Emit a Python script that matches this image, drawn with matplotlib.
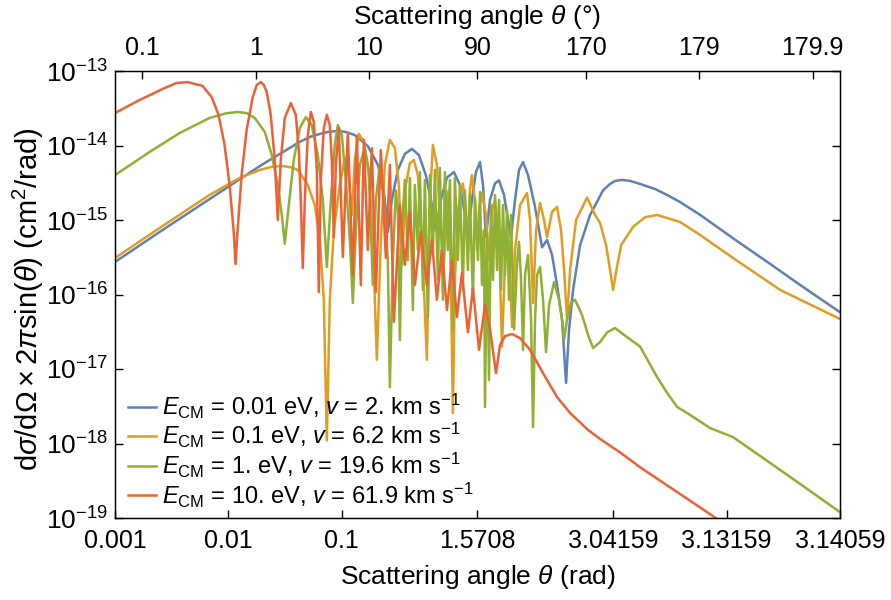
import numpy as np
import matplotlib
matplotlib.use("Agg")
import matplotlib.pyplot as plt
from matplotlib.ticker import NullLocator

# ---- data (theta in rad, cross section in cm^2/rad) ----
theta_e001 = [0.001, 0.00247, 0.00682, 0.0189, 0.0426, 0.0522, 0.0639, 0.0752, 0.0922, 0.1084,
              0.1302, 0.1696, 0.2078,
              0.2347, 0.2546, 0.2761, 0.3119, 0.3595, 0.4145, 0.4778, 0.5508, 0.6222, 0.6749,
              0.747, 0.8439, 0.9728, 1.0989, 1.2164, 1.2928, 1.4024, 1.521, 1.6486, 1.7369,
              1.8199, 1.9231, 2.0408, 2.1267, 2.2247, 2.2963, 2.3462, 2.4083, 2.4656, 2.5183,
              2.5785, 2.6531, 2.7179, 2.7588, 2.7958, 2.8292, 2.8594, 2.8814, 2.8968, 2.9159,
              2.9458, 2.9818, 3.0189, 3.0351, 3.0454, 3.0582, 3.0707, 3.0837, 3.09893, 3.1081,
              3.1159, 3.1245, 3.1328, 3.13747, 3.13935, 3.14059]
sigma_e001 = [2.73e-16, 6.9e-16, 1.91e-15, 5.3e-15, 1.12e-14, 1.3e-14, 1.43e-14, 1.52e-14, 1.57e-14, 1.52e-14,
              1.38e-14, 9.8e-15, 5.5e-15,
              2.5e-15, 6.9e-16, 1.86e-15, 4.7e-15, 7.7e-15, 9.0e-15, 7.45e-15, 4.0e-15, 1.59e-15, 7.3e-16,
              1.86e-15, 3.7e-15, 4.4e-15, 2.95e-15, 1.17e-15, 6.3e-16, 1.86e-15, 4.4e-15, 6.0e-15, 2.95e-15,
              5.9e-16, 1.86e-15, 3.1e-15, 3.4e-15, 2.17e-15, 1.0e-15, 5.9e-16, 1.86e-15, 4.7e-15, 6.0e-15,
              4.0e-15, 1.5e-15, 4.3e-16, 5.4e-16, 3.4e-16, 1.34e-16, 4.6e-17, 6.5e-18, 3.4e-17, 1.15e-16,
              4.6e-16, 1.17e-15, 2.5e-15, 3.05e-15, 3.35e-15, 3.45e-15, 3.35e-15, 3.05e-15, 2.6e-15, 2.17e-15,
              1.74e-15, 1.17e-15, 5.7e-16, 2.57e-16, 1.34e-16, 5.8e-17]

theta_e01 = [0.001, 0.00247, 0.00682, 0.01255, 0.0189, 0.0245, 0.03016, 0.0358, 0.0409, 0.0501,
             0.05777, 0.06395, 0.06936, 0.07372, 0.07835, 0.08499, 0.096, 0.10626, 0.11294, 0.1225,
             0.1302, 0.14122, 0.15633, 0.17303, 0.18767, 0.20357, 0.2208, 0.23949, 0.26509, 0.29343,
             0.31827, 0.33828, 0.3669, 0.39796, 0.43166, 0.46817, 0.50784, 0.56213, 0.59744, 0.63496,
             0.68876, 0.74702, 0.79399, 0.8439, 0.87887, 0.91527, 0.95322, 0.99278, 1.05511, 1.16793,
             1.2413, 1.2928, 1.3465, 1.4024, 1.4904, 1.555, 1.618, 1.7081, 1.8199, 1.8981,
             1.9717, 2.0408, 2.1267, 2.18674, 2.2432, 2.27895, 2.3299, 2.36226, 2.4083, 2.4791,
             2.56696, 2.6009, 2.63291, 2.66294, 2.7003, 2.73476, 2.7588, 2.79577, 2.82918, 2.85353,
             2.87058, 2.8866, 2.9017, 2.9292, 2.97173, 2.9972, 3.0112, 3.0261, 3.0351, 3.04143,
             3.04732, 3.05645, 3.07488, 3.08931, 3.10061, 3.1159, 3.1245, 3.1328, 3.13823, 3.14059]
sigma_e01 = [3.09e-16, 7.8e-16, 2.17e-15, 3.66e-15, 4.7e-15, 5.2e-15, 5.3e-15, 5.1e-15, 4.7e-15, 2.95e-15,
             1.59e-15, 5.4e-16, 8.5e-17, 1.1e-18, 8.5e-17, 7.3e-16, 2.95e-15, 6.8e-15, 5.5e-15, 1.17e-15,
             6.4e-15, 1.43e-14, 1.12e-14, 4.0e-15, 5.4e-16, 1.33e-17, 5.4e-16, 5.5e-15, 1.19e-14, 9.2e-15,
             2.95e-15, 2.5e-16, 2.95e-15, 5.8e-15, 6.4e-15, 4.0e-15, 5.4e-16, 1.33e-17, 1.86e-15, 1.02e-14,
             5.5e-15, 7.3e-16, 2.5e-16, 1.59e-15, 2.5e-15, 1.57e-16, 2.57e-18, 1.57e-16, 1.36e-15, 3.1e-15,
             1.36e-15, 3.96e-16, 2.5e-15, 4.0e-15, 1.86e-15, 3.96e-16, 1.36e-15, 2.3e-15, 1.17e-15, 2.9e-16,
             1.36e-15, 1.86e-15, 5.4e-16, 2.0e-17, 2.9e-16, 5.4e-16, 2.13e-16, 3.66e-17, 3.96e-16, 1.59e-15,
             2.3e-15, 1.0e-15, 7.7e-17, 7.3e-16, 1.69e-15, 1.0e-15, 5.9e-16, 1.28e-15, 1.5e-15, 7.3e-16,
             2.13e-16, 4.6e-17, 2.13e-16, 1.0e-15, 2.0e-15, 1.17e-15, 9.1e-16, 4.6e-16, 2.13e-16, 1.15e-16,
             2.0e-16, 4.6e-16, 8.1e-16, 1.09e-15, 1.17e-15, 9.4e-16, 6.3e-16, 3.1e-16, 1.15e-16, 4.7e-17]

theta_e1 = [0.001, 0.00202, 0.00371, 0.00682, 0.0095, 0.01205, 0.0145, 0.01708, 0.02092, 0.02412,
            0.02724, 0.02955, 0.03141, 0.03407, 0.03771, 0.0426, 0.04812, 0.05436, 0.0614, 0.06796,
            0.07372, 0.07996, 0.08673, 0.0922, 0.09998, 0.10844, 0.11762, 0.12501, 0.13287, 0.14412,
            0.15953, 0.17303, 0.18767, 0.19947, 0.21636, 0.23468, 0.25455, 0.26509, 0.28174, 0.29945,
            0.3119, 0.3248, 0.33828, 0.35952,
            0.38213, 0.39796, 0.42299, 0.44051, 0.46822, 0.4876, 0.51827, 0.53973, 0.57368, 0.59744,
            0.63502, 0.66131, 0.70291, 0.73201, 0.77805, 0.81027, 0.86124, 0.89689, 0.9533, 0.99278,
            1.05523, 1.0989, 1.168, 1.2164, 1.2929, 1.3465, 1.4312, 1.4904, 1.5866, 1.6486,
            1.7081, 1.7651, 1.7928, 1.8465, 1.8981, 1.9476, 1.9951, 2.0408, 2.0847, 2.1267,
            2.1671, 2.2059, 2.2432, 2.27895, 2.31328, 2.3462, 2.39328, 2.43753, 2.4656, 2.49244,
            2.5183, 2.5431, 2.5785, 2.61177, 2.63291, 2.6531, 2.67259, 2.7003, 2.72642, 2.75093,
            2.77405, 2.80954, 2.84162, 2.8594, 2.87058, 2.8866, 2.9065, 2.9248, 2.95357, 2.97515,
            2.99123, 3.0112, 3.0284, 3.0454, 3.0631, 3.0837, 3.10061, 3.1081, 3.1143, 3.11931,
            3.12763, 3.1328, 3.13654, 3.13935, 3.14059]
sigma_e1 = [4.0e-15, 8.2e-15, 1.47e-14, 2.34e-14, 2.7e-14, 2.82e-14, 2.72e-14, 2.34e-14, 1.52e-14, 7.45e-15,
            2.95e-15, 1.17e-15, 4.8e-16, 1.59e-15, 6.4e-15, 1.72e-14, 2.41e-14, 1.88e-14, 7.45e-15, 1.86e-15,
            2.34e-16, 1.86e-15, 1.02e-14, 1.88e-14, 1.38e-14, 3.4e-15, 5.4e-16, 7.7e-17, 7.3e-16, 5.5e-15,
            9.2e-15, 4.7e-15, 1.34e-16, 1.86e-15, 5.5e-15, 1.86e-15, 2.9e-16, 5.7e-18, 2.9e-16, 2.5e-15,
            1.36e-15, 2.45e-17, 7.3e-16, 3.45e-15,
            2.9e-16, 3.66e-15, 6.2e-17, 2.95e-15, 3.96e-16, 4.4e-15, 1.15e-16, 3.45e-15, 5.0e-17, 4.0e-15,
            3.4e-16, 4.7e-15, 1.57e-16, 5.0e-15, 8.5e-17, 4.4e-15, 3.96e-16, 3.45e-15, 3.4e-17, 3.66e-15,
            2.9e-16, 2.95e-15, 1.15e-16, 2.5e-15, 2.13e-16, 2.17e-15, 8.5e-17, 2.0e-15, 2.9e-16, 2.37e-15,
            1.34e-16, 7.3e-16, 3.09e-18, 6.9e-16, 7.1e-18, 1.59e-15, 1.57e-16, 2.17e-15, 2.13e-16, 1.86e-15,
            1.15e-16, 1.59e-15, 1.83e-16, 1.36e-15, 8.5e-17, 1.17e-15, 3.4e-17, 2.6e-16, 5.1e-16, 1.57e-16,
            1.81e-17, 1.83e-16, 3.4e-16, 4.6e-17, 1.66e-18, 4.6e-17, 1.83e-16, 2.34e-16, 8.5e-17, 1.69e-17,
            7.2e-17, 1.47e-16, 8.5e-17, 4.6e-17, 2.45e-17, 4.6e-17, 7.7e-17, 8.5e-17, 5.3e-17, 2.86e-17,
            1.91e-17, 2.3e-17, 3.1e-17, 3.55e-17, 2.8e-17, 2.0e-17, 7.8e-18, 4.8e-18, 3.09e-18, 2.57e-18,
            1.61e-18, 1.22e-18, 6.8e-19, 2.86e-19, 1.2e-19]

theta_e10 = [0.001, 0.001645, 0.002734, 0.003489, 0.004362, 0.005916, 0.007103, 0.00819, 0.00925, 0.010239,
             0.011106, 0.011566, 0.012047, 0.013067, 0.014463, 0.016395, 0.017783, 0.019287, 0.0205, 0.021789,
             0.023632, 0.025633, 0.027243, 0.028956, 0.031407, 0.035478, 0.039271, 0.04174, 0.04347, 0.04527,
             0.04715, 0.05012, 0.05326, 0.05661, 0.06017, 0.06266, 0.06526, 0.06936, 0.07372, 0.07835,
             0.0816, 0.08499, 0.0885, 0.09407, 0.10203, 0.11293, 0.12501, 0.1356, 0.14707, 0.15633,
             0.1696, 0.18391, 0.19947, 0.2208, 0.2444, 0.26509, 0.28754, 0.3248, 0.35952, 0.39796,
             0.44051, 0.4976, 0.56213, 0.62223, 0.68876, 0.76239, 0.8439, 0.93411, 1.034, 1.1445,
             1.2928, 1.4312, 1.618, 1.7928, 1.9231, 2.0629, 2.1471, 2.2432, 2.36226, 2.4791,
             2.6009, 2.72642, 2.82918, 2.9017, 2.97515, 3.0112, 3.0547, 3.0837, 3.1159, 3.1295,
             3.13654]
sigma_e10 = [2.73e-14, 4.08e-14, 5.9e-14, 6.9e-14, 7.1e-14, 6.3e-14, 4.48e-14, 2.57e-14, 1.02e-14, 2.95e-15,
             7.3e-16, 2.57e-16, 7.3e-16, 4.0e-15, 1.61e-14, 4.48e-14, 6.5e-14, 7.1e-14, 6.5e-14, 5.2e-14,
             2.57e-14, 6.4e-15, 1.0e-15, 6.4e-15, 2.34e-14, 3.72e-14, 2.57e-14, 8.7e-15, 1.86e-15, 2.27e-16,
             1.86e-15, 1.38e-14, 2.82e-14, 2.07e-14, 4.7e-15, 1.08e-16, 3.45e-15, 1.72e-14, 2.57e-14, 1.88e-14,
             6.4e-15, 5.9e-16, 5.5e-15, 1.72e-14, 3.19e-16, 1.47e-14, 1.83e-16, 1.34e-14, 1.34e-16, 1.19e-14,
             3.96e-16, 9.2e-15, 1.08e-16, 8.7e-15, 3.1e-16, 5.5e-15, 4.3e-17, 1.59e-15, 2.5e-16, 1.28e-15,
             1.34e-16, 6.9e-16, 1.34e-16, 5.4e-16, 8.5e-17, 3.96e-16, 6.2e-17, 2.9e-16, 5.0e-17, 1.94e-16,
             3.1e-17, 1.22e-16, 1.81e-17, 7.2e-17, 3.4e-17, 8.8e-18, 2.1e-17, 2.77e-17, 2.95e-17, 2.6e-17,
             1.81e-17, 8.8e-18, 4.2e-18, 2.57e-18, 1.52e-18, 1.15e-18, 7.6e-19, 4.8e-19, 2.1e-19, 9.7e-20,
             4.0e-20]

labels = [r"$E_{\mathrm{CM}}$ = 0.01 eV, $v$ = 2. km s$^{-1}$",
          r"$E_{\mathrm{CM}}$ = 0.1 eV, $v$ = 6.2 km s$^{-1}$",
          r"$E_{\mathrm{CM}}$ = 1. eV, $v$ = 19.6 km s$^{-1}$",
          r"$E_{\mathrm{CM}}$ = 10. eV, $v$ = 61.9 km s$^{-1}$"]
colors = ["#5E81B5", "#E19C24", "#8FB032", "#EB6235"]

rad_ticks = [0.001, 0.01, 0.1, np.pi / 2, np.pi - 0.1, np.pi - 0.01, np.pi - 0.001]
rad_labels = ["0.001", "0.01", "0.1", "1.5708", "3.04159", "3.13159", "3.14059"]
deg_ticks = [0.1, 1, 10, 90, 170, 179, 179.9]
deg_labels = ["0.1", "1", "10", "90", "170", "179", "179.9"]

plt.rcParams['font.family'] = ['Liberation Sans', 'DejaVu Sans']
plt.rcParams['mathtext.fontset'] = 'custom'
plt.rcParams['mathtext.rm'] = 'Liberation Sans'
plt.rcParams['mathtext.it'] = 'Liberation Sans:italic'
plt.rcParams['mathtext.bf'] = 'Liberation Sans:bold'


# log distance from 0 on the left half, log distance from pi on the right half
def fwd(t):
    t = np.asarray(t, dtype=float)
    h = np.pi / 2
    with np.errstate(all="ignore"):
        left = np.log10(np.clip(t, 1e-12, None) / h)
        right = -np.log10(np.clip(np.pi - t, 1e-12, None) / h)
    return np.where(t <= h, left, right)


def inv(u):
    u = np.asarray(u, dtype=float)
    h = np.pi / 2
    with np.errstate(all="ignore"):
        return np.where(u <= 0, h * 10.0 ** u, np.pi - h * 10.0 ** (-u))


if len(theta_e001) != len(sigma_e001) or len(theta_e01) != len(sigma_e01) \
        or len(theta_e1) != len(sigma_e1) or len(theta_e10) != len(sigma_e10):
    raise ValueError("length mismatch")

fig = plt.figure(figsize=(8.91, 6.0), dpi=100)
ax = fig.add_axes([115 / 891, 1 - 518 / 600, 725 / 891, 447 / 600])
ax.set_xscale("function", functions=(fwd, inv))
ax.set_yscale("log")

curves = [(theta_e001, sigma_e001), (theta_e01, sigma_e01),
          (theta_e1, sigma_e1), (theta_e10, sigma_e10)]
for (th, sg), c, lab in zip(curves, colors, labels):
    ax.plot(th, sg, color=c, lw=1.8, label=lab, solid_joinstyle="round")

ax.set_xlim(0.001, np.pi - 0.001)
ax.set_ylim(1e-19, 1e-13)

ax.set_xticks(rad_ticks)
ax.set_xticklabels(rad_labels)
ax.xaxis.set_minor_locator(NullLocator())
ax.set_yticks([10.0 ** k for k in range(-19, -12)])
ax.yaxis.set_minor_locator(NullLocator())
ax.tick_params(direction="in", length=6, width=1, right=True, top=False)
ax.tick_params(axis="x", labelsize=18, pad=8)
ax.tick_params(axis="y", labelsize=19, pad=5)
for s in ax.spines.values():
    s.set_linewidth(1)

ax.set_xlabel(r"Scattering angle $\theta$ (rad)", fontsize=19)
ax.xaxis.set_label_coords(0.5, -0.1)
ax.set_ylabel(r"d$\sigma$/d$\Omega\times$2$\pi$sin($\theta$) (cm$^2$/rad)", fontsize=21)
ax.yaxis.set_label_coords(-0.095, 0.49)

# top axis in degrees
ax2 = ax.twiny()
ax2.set_xscale("function", functions=(fwd, inv))
ax2.set_xlim(ax.get_xlim())
ax2.set_xticks(np.deg2rad(deg_ticks))
ax2.set_xticklabels(deg_labels)
ax2.xaxis.set_minor_locator(NullLocator())
ax2.tick_params(direction="in", length=6, width=1, labelsize=18, pad=8)
ax2.set_xlabel(r"Scattering angle $\theta$ (°)", fontsize=19)
ax2.xaxis.set_label_coords(0.5, 1.105)

ax.legend(loc="lower left", bbox_to_anchor=(0.018, 0.019), frameon=False, fontsize=17,
          handlelength=1.2, handletextpad=0.25, labelspacing=0.02,
          borderaxespad=0, borderpad=0)

fig.savefig("out.png", dpi=100)
